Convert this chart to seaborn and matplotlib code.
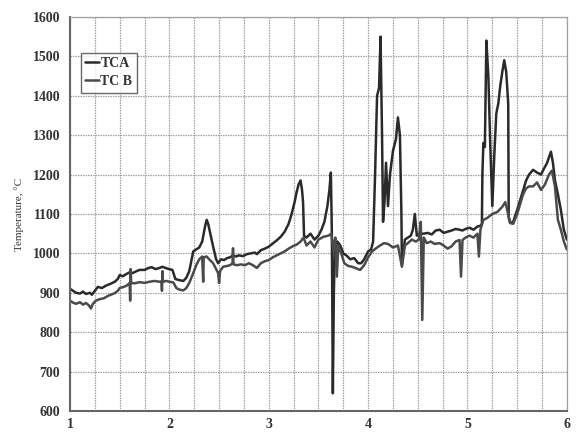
import numpy as np
import pandas as pd
import matplotlib
matplotlib.use("Agg")
import matplotlib.pyplot as plt
import seaborn as sns

# ---- data ----
tca_x = [1.00, 1.03, 1.06, 1.10, 1.13, 1.16, 1.20, 1.22, 1.25, 1.28, 1.32, 1.36, 1.40, 1.45, 1.48,
         1.50, 1.53, 1.57, 1.60, 1.63, 1.67, 1.70, 1.75, 1.78, 1.82, 1.86, 1.90, 1.93, 1.97, 2.00,
         2.03, 2.06, 2.10, 2.14, 2.17, 2.20, 2.24, 2.27, 2.30, 2.33, 2.36, 2.375, 2.39, 2.42, 2.44,
         2.47, 2.49, 2.52, 2.55, 2.58, 2.61, 2.64, 2.67, 2.70, 2.74, 2.78, 2.82, 2.86, 2.88, 2.92,
         2.96, 3.00, 3.04, 3.08, 3.12, 3.16, 3.20, 3.23, 3.26, 3.28, 3.30, 3.32, 3.335, 3.345, 3.355,
         3.38, 3.42, 3.46, 3.50, 3.53, 3.56, 3.59, 3.61, 3.625, 3.635, 3.645, 3.655, 3.665, 3.69,
         3.72, 3.75, 3.78, 3.82, 3.86, 3.90, 3.93, 3.96, 4.00, 4.03, 4.05, 4.07, 4.09, 4.11, 4.125,
         4.14, 4.15, 4.165, 4.18, 4.20, 4.22, 4.25, 4.28, 4.30, 4.32, 4.335, 4.34, 4.37, 4.40, 4.43,
         4.45, 4.47, 4.49, 4.52, 4.56, 4.60, 4.64, 4.68, 4.72, 4.76, 4.80, 4.84, 4.88, 4.92, 4.95,
         4.98, 5.02, 5.06, 5.10, 5.13, 5.145, 5.15, 5.16, 5.175, 5.19, 5.21, 5.23, 5.25, 5.27, 5.29,
         5.31, 5.33, 5.35, 5.37, 5.39, 5.41, 5.415, 5.43, 5.46, 5.50, 5.53, 5.56, 5.59, 5.62, 5.66,
         5.70, 5.74, 5.77, 5.80, 5.84, 5.86, 5.88, 5.91, 5.94, 5.97, 6.00]
tca_y = [910, 905, 900, 898, 903, 897, 900, 895, 905, 915, 912, 918, 922, 928, 935,
         945, 942, 948, 952, 950, 955, 958, 958, 962, 965, 960, 963, 966, 962, 960,
         958, 935, 932, 930, 938, 955, 1005, 1010, 1015, 1030, 1070, 1085, 1075, 1040, 1017,
         985, 975, 985, 983, 988, 990, 995, 992, 995, 993, 998, 1000, 1002, 998, 1008,
         1012, 1017, 1025, 1033, 1042, 1055, 1075, 1100, 1130, 1155, 1175, 1185, 1160, 1130, 1045,
         1040, 1050, 1035, 1045, 1060, 1080, 1120, 1160, 1205, 1050, 645, 900, 1010, 1030,
         1020, 1000, 995, 985, 988, 975, 975, 985, 1005, 1010, 1030, 1200, 1400, 1420, 1550,
         1300, 1080, 1130, 1230, 1120, 1200, 1260, 1290, 1345, 1300, 1100, 970, 1035, 1040, 1045,
         1060, 1100, 1045, 1050, 1050, 1052, 1048, 1058, 1060, 1052, 1055, 1058, 1062, 1060, 1058,
         1062, 1065, 1060, 1068, 1070, 1075, 1200, 1280, 1270, 1540, 1450, 1270, 1120, 1250, 1355,
         1380, 1425, 1460, 1490, 1460, 1380, 1090, 1077, 1080, 1110, 1135, 1160, 1185, 1200, 1212,
         1205, 1200, 1215, 1229, 1258, 1230, 1186, 1150, 1110, 1060, 1035]

tcb_x = [1.00, 1.03, 1.06, 1.10, 1.13, 1.16, 1.19, 1.21, 1.23, 1.26, 1.30, 1.34, 1.38, 1.42, 1.45,
         1.48, 1.50, 1.53, 1.56, 1.58, 1.60, 1.605, 1.61, 1.615, 1.65, 1.70, 1.75, 1.80, 1.85, 1.90,
         1.92, 1.925, 1.93, 1.935, 1.97, 2.00, 2.04, 2.07, 2.10, 2.14, 2.17, 2.20, 2.24, 2.27, 2.30,
         2.33, 2.34, 2.345, 2.375, 2.40, 2.44, 2.47, 2.49, 2.50, 2.51, 2.54, 2.58, 2.61, 2.635, 2.64,
         2.645, 2.68, 2.72, 2.76, 2.80, 2.84, 2.88, 2.92, 2.96, 3.00, 3.04, 3.08, 3.12, 3.16, 3.20,
         3.24, 3.28, 3.32, 3.35, 3.38, 3.42, 3.46, 3.50, 3.55, 3.60, 3.63, 3.65, 3.67, 3.685, 3.70,
         3.73, 3.76, 3.80, 3.84, 3.88, 3.92, 3.96, 4.00, 4.04, 4.08, 4.12, 4.16, 4.20, 4.25, 4.30,
         4.34, 4.37, 4.40, 4.44, 4.48, 4.51, 4.53, 4.545, 4.56, 4.59, 4.63, 4.67, 4.72, 4.76, 4.80,
         4.84, 4.88, 4.92, 4.935, 4.95, 4.98, 5.02, 5.06, 5.10, 5.115, 5.13, 5.16, 5.20, 5.25, 5.30,
         5.35, 5.38, 5.40, 5.43, 5.46, 5.50, 5.53, 5.56, 5.59, 5.62, 5.66, 5.70, 5.74, 5.78, 5.82,
         5.85, 5.88, 5.91, 5.94, 5.97, 6.00]
tcb_y = [880, 875, 872, 876, 870, 874, 868, 860, 872, 880, 884, 886, 892, 896, 899,
         905, 912, 914, 917, 920, 925, 880, 960, 925, 924, 927, 925, 928, 930, 928,
         929, 905, 955, 928, 930, 928, 926, 912, 908, 906, 912, 925, 950, 970, 985,
         992, 928, 990, 992, 985, 975, 960, 950, 925, 955, 966, 968, 970, 975, 1013,
         972, 970, 972, 970, 975, 970, 963, 975, 980, 983, 990, 995, 1000, 1005, 1012,
         1018, 1022, 1030, 1040, 1020, 1030, 1015, 1035, 1042, 1045, 1050, 1010, 1040, 941, 1020,
         1000, 975, 968, 966, 962, 958, 970, 990, 1005, 1013, 1020, 1026, 1024, 1015, 1020,
         966, 1020, 1026, 1035, 1030, 1035, 1080, 831, 1040, 1026, 1030, 1024, 1026, 1020, 1012,
         1018, 1030, 1034, 941, 1034, 1040, 1045, 1040, 1050, 992, 1060, 1085, 1090, 1100, 1105,
         1118, 1130, 1110, 1077, 1075, 1100, 1125, 1150, 1165, 1170, 1170, 1180, 1161, 1175, 1200,
         1210, 1170, 1085, 1060, 1030, 1010]

x_ticks = [1, 2, 3, 4, 5, 6]
y_ticks = [600, 700, 800, 900, 1000, 1100, 1200, 1300, 1400, 1500, 1600]
y_label = "Temperature, °C"

df = pd.concat([
    pd.DataFrame({"x": tca_x, "y": tca_y, "series": "TCA"}),
    pd.DataFrame({"x": tcb_x, "y": tcb_y, "series": "TC B"}),
], ignore_index=True)

sns.set_style("white")
plt.rcParams["font.family"] = ["Liberation Serif", "DejaVu Serif"]

fig = plt.figure(figsize=(5.79, 4.34), dpi=100)
ax = fig.add_axes([0.121, 0.053, 0.858, 0.908])

sns.lineplot(data=df, x="x", y="y", hue="series", sort=False, estimator=None,
             palette={"TCA": "#2a2a2a", "TC B": "#4a4a4a"}, linewidth=1.8, ax=ax)

ax.set_xlim(1, 6)
ax.set_ylim(600, 1600)
ax.set_xticks(x_ticks)
ax.set_xticklabels([str(v) for v in x_ticks], fontsize=10, fontweight="bold", color="#333333")
ax.set_xticks(np.arange(1, 6.01, 0.25), minor=True)
ax.set_yticks(y_ticks)
ax.set_yticklabels([str(v) for v in y_ticks], fontsize=10, fontweight="bold", color="#333333")
ax.grid(True, which="both", color="#a0a0a0", linewidth=0.9, linestyle=(0, (1.2, 0.8)))
ax.set_axisbelow(True)
ax.tick_params(axis="both", which="major", length=3, width=1, color="#555555", direction="out")
ax.tick_params(axis="x", which="major", pad=2)
ax.tick_params(axis="y", which="major", pad=4)
ax.tick_params(axis="both", which="minor", length=0)
for s in ["left", "bottom"]:
    ax.spines[s].set_color("#666666")
    ax.spines[s].set_linewidth(1.5)
for s in ["top", "right"]:
    ax.spines[s].set_color("#a0a0a0")
    ax.spines[s].set_linewidth(0.9)
ax.set_xlabel("")
ax.set_ylabel(y_label, fontsize=8, color="#333333", labelpad=6)

leg = ax.legend(loc="upper left", bbox_to_anchor=(0.008, 0.927), frameon=True, fancybox=False,
                handlelength=1.0, handletextpad=0.1, borderpad=0.3, labelspacing=0.4,
                prop={"family": "Liberation Serif", "size": 10, "weight": "bold"})
leg.get_frame().set_edgecolor("#444444")
leg.get_frame().set_linewidth(1.0)
for t in leg.get_texts():
    t.set_color("#333333")

fig.savefig("out.png", dpi=100)
